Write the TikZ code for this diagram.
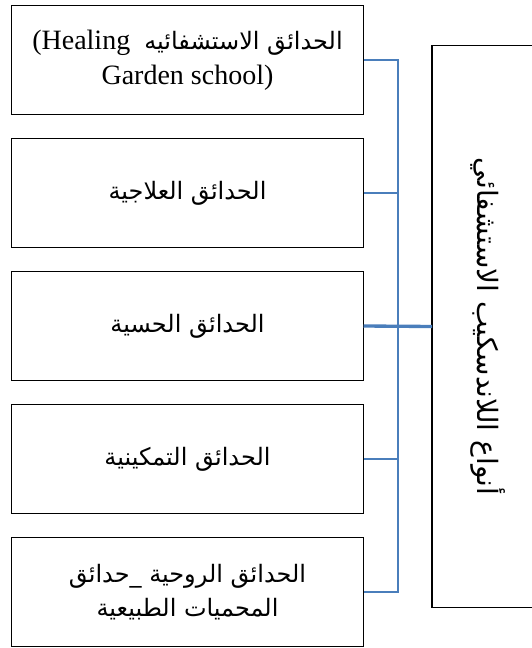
\documentclass[tikz,border=0pt]{standalone}
\usepackage{fontspec}
\setmainfont{Liberation Serif}
\newfontfamily\arabicfont[Script=Arabic]{DejaVu Sans}
\TeXXeTstate=1
\usetikzlibrary{positioning}
\definecolor{linkblue}{RGB}{74,126,187}
\newcommand{\ar}[1]{{\arabicfont\fontsize{18}{25}\selectfont\beginR #1\endR}}

\begin{document}
\begin{tikzpicture}[x=0.75pt, y=-0.75pt,
    gardenbox/.style={draw, line width=1pt, minimum width=264pt, minimum height=82pt,
      inner sep=2pt, outer sep=0pt, align=center, font=\fontsize{21}{26}\selectfont},
    typebox/.style={draw, line width=1pt, minimum width=84pt, minimum height=421.5pt, outer sep=0pt},
    link/.style={linkblue, line width=1.5pt}]
    \useasboundingbox (0,0) rectangle (531,648);
    % garden boxes
    \node[gardenbox] (heal) at (187.5,60)
      {(Healing\ \ \ar{الحدائق الاستشفائيه}\\Garden school)};
    \node[gardenbox, below=17.75pt of heal] (therap) {\ar{الحدائق العلاجية}};
    \node[gardenbox, below=17.75pt of therap] (sens) {\ar{الحدائق الحسية}};
    \node[gardenbox, below=17.75pt of sens] (enab) {\ar{الحدائق التمكينية}};
    \node[gardenbox, below=17.75pt of enab] (spirit)
      {\ar{الحدائق الروحية \_حدائق}\\\ar{المحميات الطبيعية}};
    % types box (right edge runs off the page)
    \node[typebox] (types) at (488,326.5) {};
    \node[rotate=-90, font=\arabicfont\fontsize{21}{24}\selectfont] (typestext) at (types.center)
      {\beginR أنواع اللاندسكيب الاستشفائي\endR};
    % connectors
    \coordinate (bus) at (398,326.5);
    \draw[link] (heal.east) -| (bus) |- (spirit.east);
    \draw[link] (therap.east) -- (therap.east -| bus);
    \draw[link] (enab.east) -- (enab.east -| bus);
    \draw[link, line width=2.5pt] (sens.east) -- (types.west);
\end{tikzpicture}
\end{document}
